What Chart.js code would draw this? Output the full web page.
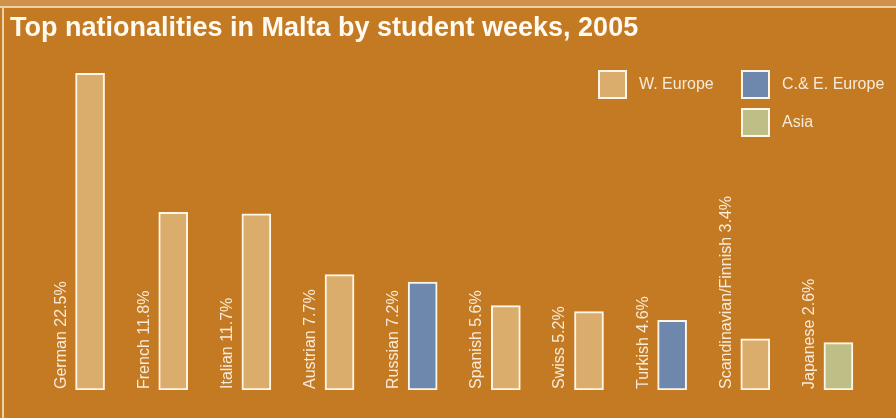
<!DOCTYPE html>
<html>
<head>
<meta charset="utf-8">
<script src="https://cdn.jsdelivr.net/npm/chart.js@4"></script>
<style>
  html, body { margin: 0; padding: 0; background: #c47a22; }
  #wrap { width: 896px; height: 418px; }
</style>
</head>
<body>
<div id="wrap"><canvas id="myChart" width="896" height="418"></canvas></div>
<script>
// categories and values
var nationalities = ['German', 'French', 'Italian', 'Austrian', 'Russian', 'Spanish', 'Swiss', 'Turkish', 'Scandinavian/Finnish', 'Japanese'];
var shares = ['22.5%', '11.8%', '11.7%', '7.7%', '7.2%', '5.6%', '5.2%', '4.6%', '3.4%', '2.6%'];
// bar heights as drawn in the picture (student weeks, %)
var barHeights = [21.4, 12.0, 11.9, 7.8, 7.3, 5.7, 5.3, 4.7, 3.45, 3.2];
var regions = ['W. Europe', 'W. Europe', 'W. Europe', 'W. Europe', 'C.& E. Europe', 'W. Europe', 'W. Europe', 'C.& E. Europe', 'W. Europe', 'Asia'];

var regionNames = ['W. Europe', 'C.& E. Europe', 'Asia'];
var regionColors = { 'W. Europe': '#dbad6c', 'C.& E. Europe': '#6d87ad', 'Asia': '#bdbf86' };

var textColor = '#f7ead8';
var labelFont = '16px "Liberation Sans", Arial, sans-serif';

/* background, frame and title */
var framePlugin = {
  id: 'frame',
  beforeDraw: function(chart) {
    var c = chart.ctx;
    c.save();
    c.fillStyle = '#c47a22';
    c.fillRect(0, 0, chart.width, chart.height);
    c.fillStyle = '#d0924a';
    c.fillRect(0, 0, chart.width, 6);
    c.fillStyle = '#ecd0a8';
    c.fillRect(0, 6, chart.width, 2);
    c.fillRect(2, 6, 2, chart.height - 6);
    c.fillStyle = '#fffaf2';
    c.font = 'bold 27px "Liberation Sans", Arial, sans-serif';
    c.textBaseline = 'alphabetic';
    c.fillText('Top nationalities in Malta by student weeks, 2005', 10, 36);
    c.restore();
  }
};

/* rotated labels next to each bar */
var labelPlugin = {
  id: 'barLabels',
  afterDatasetsDraw: function(chart) {
    var c = chart.ctx;
    var meta = chart.getDatasetMeta(0);
    c.save();
    c.fillStyle = textColor;
    c.font = labelFont;
    c.textAlign = 'left';
    c.textBaseline = 'alphabetic';
    meta.data.forEach(function(bar, i) {
      c.save();
      c.translate(bar.x - bar.width / 2 - 10, chart.chartArea.bottom - 1);
      c.rotate(-Math.PI / 2);
      c.fillText(nationalities[i] + ' ' + shares[i], 0, 0);
      c.restore();
    });
    c.restore();
  }
};

/* two column legend top right */
var legendPlugin = {
  id: 'regionLegend',
  afterDraw: function(chart) {
    var c = chart.ctx;
    var spots = [[598, 70], [741, 70], [741, 108]];
    c.save();
    c.font = '16px "Liberation Sans", Arial, sans-serif';
    c.textBaseline = 'middle';
    regionNames.forEach(function(name, i) {
      var x = spots[i][0], y = spots[i][1];
      c.fillStyle = regionColors[name];
      c.fillRect(x, y, 29, 29);
      c.strokeStyle = '#fff6ea';
      c.lineWidth = 2;
      c.strokeRect(x + 1, y + 1, 27, 27);
      c.fillStyle = textColor;
      c.fillText(name, x + 41, y + 15);
    });
    c.restore();
  }
};

var data = {
  labels: nationalities,
  datasets: [{
    label: 'Student weeks',
    data: barHeights,
    backgroundColor: regions.map(function(r) { return regionColors[r]; }),
    borderColor: '#fff6ea',
    borderWidth: 2,
    borderSkipped: false,
    barThickness: 29
  }]
};

const config = {
  type: 'bar',
  data: data,
  options: {
    responsive: false,
    animation: false,
    layout: {
      padding: {
        top: 20,
        bottom: 28,
        left: 48.5,
        right: 16
      }
    },
    scales: {
      x: { display: false },
      y: { display: false, min: 0, max: 25 }
    },
    plugins: {
      legend: { display: false },
      title: { display: false },
      tooltip: { enabled: false }
    }
  },
  plugins: [framePlugin, labelPlugin, legendPlugin]
};

var myChart = new Chart(document.getElementById('myChart'), config);
</script>
</body>
</html>
